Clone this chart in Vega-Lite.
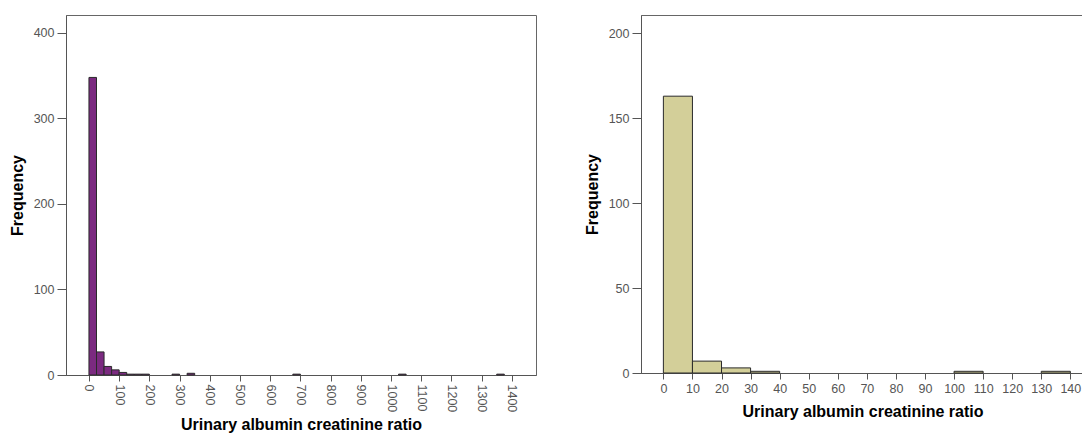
{
  "$schema": "https://vega.github.io/schema/vega-lite/v6.json",
  "padding": {"left": 8, "top": 14, "right": 0, "bottom": 0},
  "background": "white",
  "datasets": {
    "all": [
      {"lo": 0, "hi": 25, "count": 348},
      {"lo": 25, "hi": 50, "count": 27},
      {"lo": 50, "hi": 75, "count": 10},
      {"lo": 75, "hi": 100, "count": 6},
      {"lo": 100, "hi": 125, "count": 3},
      {"lo": 125, "hi": 150, "count": 1},
      {"lo": 150, "hi": 175, "count": 1},
      {"lo": 175, "hi": 200, "count": 1},
      {"lo": 275, "hi": 300, "count": 1},
      {"lo": 325, "hi": 350, "count": 2},
      {"lo": 675, "hi": 700, "count": 1},
      {"lo": 1025, "hi": 1050, "count": 1},
      {"lo": 1350, "hi": 1375, "count": 1}
    ],
    "sub": [
      {"lo": 0, "hi": 10, "count": 163},
      {"lo": 10, "hi": 20, "count": 7},
      {"lo": 20, "hi": 30, "count": 3},
      {"lo": 30, "hi": 40, "count": 1},
      {"lo": 100, "hi": 110, "count": 1},
      {"lo": 130, "hi": 140, "count": 1}
    ]
  },
  "spacing": 46,
  "hconcat": [
    {
      "width": 470,
      "height": 360,
      "data": {"name": "all"},
      "mark": {"type": "rect", "fill": "#7b2a80", "stroke": "#2a2a2a", "strokeWidth": 1},
      "encoding": {
        "x": {"field": "lo", "type": "quantitative",
          "scale": {"domain": [-76, 1480], "nice": false, "zero": false},
          "axis": {"title": "Urinary albumin creatinine ratio", "values": [0,100,200,300,400,500,600,700,800,900,1000,1100,1200,1300,1400],
            "format": "d", "labelAngle": 90, "labelAlign": "left", "labelBaseline": "middle", "titlePadding": 5}},
        "x2": {"field": "hi"},
        "y": {"field": "count", "type": "quantitative",
          "scale": {"domain": [0, 421], "nice": false},
          "axis": {"title": "Frequency", "values": [0,100,200,300,400], "format": "d", "tickSize": 9, "labelPadding": 3, "titlePadding": 8}},
        "y2": {"datum": 0}
      }
    },
    {
      "width": 443,
      "height": 358,
      "data": {"name": "sub"},
      "mark": {"type": "rect", "fill": "#d3cf99", "stroke": "#2a2a2a", "strokeWidth": 1},
      "encoding": {
        "x": {"field": "lo", "type": "quantitative",
          "scale": {"domain": [-7.7, 144.7], "nice": false, "zero": false},
          "axis": {"title": "Urinary albumin creatinine ratio", "values": [0,10,20,30,40,50,60,70,80,90,100,110,120,130,140],
            "format": "d", "labelAngle": 0, "titlePadding": 9}},
        "x2": {"field": "hi"},
        "y": {"field": "count", "type": "quantitative",
          "scale": {"domain": [0, 210.8], "nice": false},
          "axis": {"title": "Frequency", "values": [0,50,100,150,200], "format": "d", "tickSize": 9, "labelPadding": 3, "titlePadding": 8}},
        "y2": {"datum": 0}
      }
    }
  ],
  "config": {
    "font": "Liberation Sans",
    "view": {"stroke": "#666", "strokeWidth": 1},
    "axis": {
      "grid": false,
      "labelFont": "Liberation Sans",
      "labelFontSize": 12.5,
      "labelColor": "#555",
      "titleFont": "Liberation Sans",
      "titleFontSize": 16,
      "titleFontWeight": "bold",
      "titleColor": "#000",
      "tickColor": "#555",
      "domainColor": "#555",
      "tickSize": 6,
      "labelPadding": 3
    }
  }
}
